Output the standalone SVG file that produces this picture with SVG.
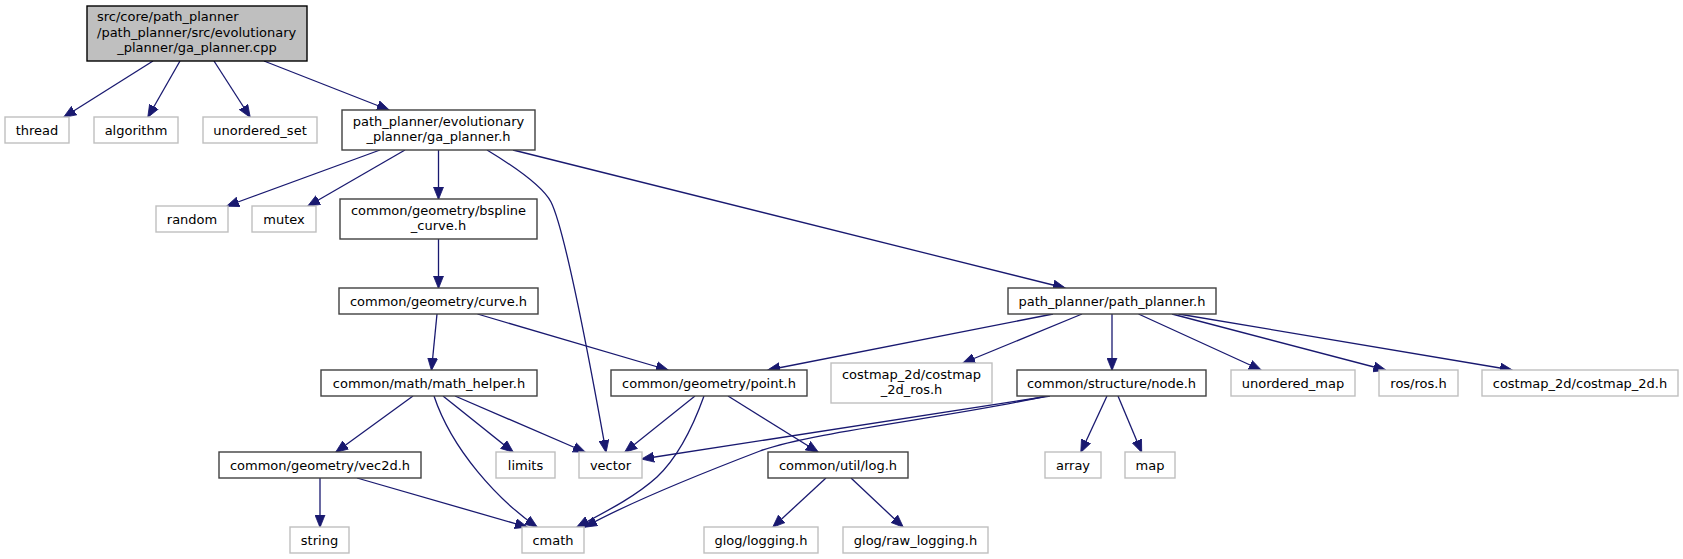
<svg xmlns="http://www.w3.org/2000/svg" width="1683" height="559" viewBox="0 0 1683 559">
<style>
  .n rect { fill: #ffffff; stroke: #404040; stroke-width: 1.4; }
  .g rect { fill: #ffffff; stroke: #bfbfbf; stroke-width: 1.4; }
  .m rect { fill: #bfbfbf; stroke: #000000; stroke-width: 1.4; }
  text { font-family: "DejaVu Sans", "Liberation Sans", sans-serif; font-size: 13px; fill: #000000; text-anchor: middle; }
  .l { text-anchor: start; }
  #edges path { fill: none; stroke: #191970; stroke-width: 1.3; marker-end: url(#arr); }
</style>
<defs>
  <marker id="arr" markerUnits="userSpaceOnUse" markerWidth="13" markerHeight="11" refX="12" refY="5" orient="auto" viewBox="0 0 13 10">
    <path d="M0,0 L12.5,5 L0,10 z" fill="#191970" stroke="#191970" stroke-width="0.8"/>
  </marker>
</defs>
<rect width="1683" height="559" fill="#ffffff"/>
<g id="edges">
  <path d="M153,61 L64,117"/>
  <path d="M180,61 L148,117"/>
  <path d="M214,61 L250,117"/>
  <path d="M264,61 L389,110"/>
  <path d="M380,150 L227,206"/>
  <path d="M405,150 L308,206"/>
  <path d="M438.5,150 L438.5,199"/>
  <path d="M487,150 C520,170 543,187 551,202 C566,232 594,385 606,452"/>
  <path d="M513,150 L1065,288"/>
  <path d="M438.5,239 L438.5,288"/>
  <path d="M437,314 L431.5,370"/>
  <path d="M477.5,314 L668,370"/>
  <path d="M1053,314 L768,370"/>
  <path d="M1082,314 L963,363"/>
  <path d="M1112,314 L1112,370"/>
  <path d="M1138.5,314 L1261,370"/>
  <path d="M1172,314 L1385.5,370"/>
  <path d="M1178.5,314 L1512,370"/>
  <path d="M413,396 L336,452"/>
  <path d="M434,396 C452,450 498,500 537,527"/>
  <path d="M443,396 L513,452"/>
  <path d="M455,396 L585,452"/>
  <path d="M695,396 L625,452"/>
  <path d="M704,396 C690,435 675,460 657,477 C635,497 605,512 577,527"/>
  <path d="M728,396 L818,452"/>
  <path d="M1050,396 L642,459"/>
  <path d="M1046,396 C960,416 810,432 760,451 C700,474 630,502 585,527"/>
  <path d="M1107,396 L1081,452"/>
  <path d="M1118,396 L1141.5,452"/>
  <path d="M320,478 L320,527"/>
  <path d="M357,478 L527,527"/>
  <path d="M826,478 L773,527"/>
  <path d="M851,478 L903,527"/>
</g>
<g id="node_main" class="m"><rect x="87" y="6" width="220" height="55"/>
  <text class="l" x="97" y="21">src/core/path_planner</text>
  <text class="l" x="97" y="36.5">/path_planner/src/evolutionary</text>
  <text x="197" y="52">_planner/ga_planner.cpp</text></g>
<g id="node_thread" class="g"><rect x="5" y="117" width="64" height="26"/><text x="37" y="134.5">thread</text></g>
<g id="node_algorithm" class="g"><rect x="94" y="117" width="84" height="26"/><text x="136" y="134.5">algorithm</text></g>
<g id="node_unordered_set" class="g"><rect x="203" y="117" width="114" height="26"/><text x="260" y="134.5">unordered_set</text></g>
<g id="node_ga_planner_h" class="n"><rect x="342" y="110" width="193" height="40"/>
  <text x="438.5" y="126">path_planner/evolutionary</text>
  <text x="438.5" y="140.5">_planner/ga_planner.h</text></g>
<g id="node_random" class="g"><rect x="156" y="206" width="72" height="26"/><text x="192" y="223.5">random</text></g>
<g id="node_mutex" class="g"><rect x="252" y="206" width="64" height="26"/><text x="284" y="223.5">mutex</text></g>
<g id="node_bspline" class="n"><rect x="340" y="199" width="197" height="40"/>
  <text x="438.5" y="215">common/geometry/bspline</text>
  <text x="438.5" y="229.5">_curve.h</text></g>
<g id="node_curve" class="n"><rect x="339" y="288" width="199" height="26"/><text x="438.5" y="305.5">common/geometry/curve.h</text></g>
<g id="node_path_planner_h" class="n"><rect x="1008" y="288" width="208" height="26"/><text x="1112" y="305.5">path_planner/path_planner.h</text></g>
<g id="node_math_helper" class="n"><rect x="321" y="370" width="216" height="26"/><text x="429" y="387.5">common/math/math_helper.h</text></g>
<g id="node_point" class="n"><rect x="611" y="370" width="196" height="26"/><text x="709" y="387.5">common/geometry/point.h</text></g>
<g id="node_costmap_ros" class="g"><rect x="831" y="363" width="161" height="40"/>
  <text x="911.5" y="379">costmap_2d/costmap</text>
  <text x="911.5" y="393.5">_2d_ros.h</text></g>
<g id="node_node_h" class="n"><rect x="1017" y="370" width="189" height="26"/><text x="1111.5" y="387.5">common/structure/node.h</text></g>
<g id="node_unordered_map" class="g"><rect x="1231" y="370" width="124" height="26"/><text x="1293" y="387.5">unordered_map</text></g>
<g id="node_ros" class="g"><rect x="1379" y="370" width="79" height="26"/><text x="1418.5" y="387.5">ros/ros.h</text></g>
<g id="node_costmap2d" class="g"><rect x="1482" y="370" width="196" height="26"/><text x="1580" y="387.5">costmap_2d/costmap_2d.h</text></g>
<g id="node_vec2d" class="n"><rect x="219" y="452" width="202" height="26"/><text x="320" y="469.5">common/geometry/vec2d.h</text></g>
<g id="node_limits" class="g"><rect x="496" y="452" width="59" height="26"/><text x="525.5" y="469.5">limits</text></g>
<g id="node_vector" class="g"><rect x="579" y="452" width="63" height="26"/><text x="610.5" y="469.5">vector</text></g>
<g id="node_log" class="n"><rect x="768" y="452" width="140" height="26"/><text x="838" y="469.5">common/util/log.h</text></g>
<g id="node_array" class="g"><rect x="1045" y="452" width="56" height="26"/><text x="1073" y="469.5">array</text></g>
<g id="node_map" class="g"><rect x="1125" y="452" width="50" height="26"/><text x="1150" y="469.5">map</text></g>
<g id="node_string" class="g"><rect x="290" y="527" width="59" height="26"/><text x="319.5" y="544.5">string</text></g>
<g id="node_cmath" class="g"><rect x="522" y="527" width="62" height="26"/><text x="553" y="544.5">cmath</text></g>
<g id="node_glog_logging" class="g"><rect x="704" y="527" width="114" height="26"/><text x="761" y="544.5">glog/logging.h</text></g>
<g id="node_glog_raw" class="g"><rect x="843" y="527" width="145" height="26"/><text x="915.5" y="544.5">glog/raw_logging.h</text></g>
</svg>
